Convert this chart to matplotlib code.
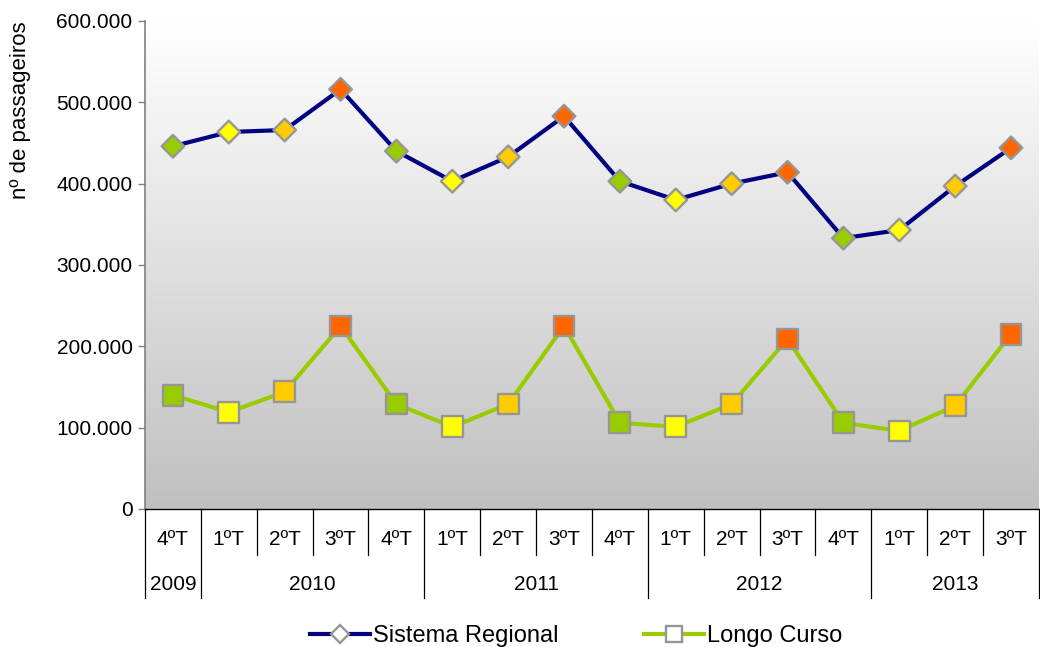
import matplotlib
matplotlib.use("Agg")
import matplotlib.pyplot as plt
import numpy as np
from matplotlib.colors import LinearSegmentedColormap
from matplotlib.ticker import FuncFormatter
from matplotlib.lines import Line2D
import matplotlib.transforms as mtransforms

plt.rcParams['font.family'] = ['Liberation Sans', 'DejaVu Sans']

quarters = ["4ºT", "1ºT", "2ºT", "3ºT", "4ºT", "1ºT", "2ºT", "3ºT",
            "4ºT", "1ºT", "2ºT", "3ºT", "4ºT", "1ºT", "2ºT", "3ºT"]
years = ["2009", "2010", "2011", "2012", "2013"]
year_span = [1, 4, 4, 4, 3]   # quarters per year group

regional = [446000, 463500, 466000, 516000, 440000, 403000, 433000, 483000,
            403000, 380000, 400000, 414000, 333000, 343000, 397000, 444000]
longo = [140000, 119000, 144000, 225000, 129000, 101000, 129000, 225000,
         106000, 101000, 129000, 209000, 106000, 96000, 127000, 215000]

q_colors = {"1": "#FFFF00", "2": "#FFCC00", "3": "#FF6600", "4": "#99CC00"}
edge = "#969696"

fig = plt.figure(figsize=(10.4, 6.47), dpi=100)
ax = fig.add_axes([145 / 1040, 1 - 509 / 647, 1 - 145 / 1040 - 0.001, (509 - 21) / 647])

# background gradient
cmap = LinearSegmentedColormap.from_list("bg", ["#C0C0C0", "#FFFFFF"])
grad = np.linspace(0, 1, 256).reshape(-1, 1)
ax.imshow(grad, extent=[0, 1, 0, 1], transform=ax.transAxes, aspect='auto',
          cmap=cmap, origin='lower', zorder=0)

x = np.arange(len(quarters))
fcols = [q_colors[q[0]] for q in quarters]

ax.plot(x, regional, color="#000080", lw=3, zorder=2)
ax.scatter(x, regional, marker='D', s=11.5 ** 2, c=fcols, edgecolors=edge,
           linewidths=1.7, zorder=3)
ax.plot(x, longo, color="#99CC00", lw=3, zorder=2)
ax.scatter(x, longo, marker='s', s=15 ** 2, c=fcols, edgecolors=edge,
           linewidths=1.7, zorder=3)

ax.set_xlim(-0.5, len(quarters) - 0.5)
ax.set_ylim(0, 600000)
ax.set_yticks(np.arange(0, 600001, 100000))
ax.yaxis.set_major_formatter(FuncFormatter(lambda v, p: f"{int(v):,}".replace(",", ".")))
ax.tick_params(axis='y', direction='out', length=5, width=1, color="#808080",
               labelsize=15, pad=4)
ax.set_xticks([])
for s in ['top', 'right']:
    ax.spines[s].set_visible(False)
ax.spines['left'].set_color("#808080")
ax.spines['left'].set_linewidth(1.2)
ax.spines['bottom'].set_color("#000000")
ax.spines['bottom'].set_linewidth(1.0)

ax.set_ylabel("nº de passageiros", fontsize=16)
ax.yaxis.set_label_coords(-0.128, 0.818)

# category axis: quarters and years
tr = mtransforms.blended_transform_factory(ax.transData, ax.transAxes)
for i, q in enumerate(quarters):
    ax.text(i, -0.063, q, transform=tr, ha='center', va='center', fontsize=15)

year_bounds = np.concatenate([[0], np.cumsum(year_span)])
for b in range(len(quarters) + 1):
    ylow = -0.182 if b in year_bounds else -0.094
    ax.plot([b - 0.5, b - 0.5], [0, ylow], transform=tr, color="#000000",
            lw=0.9, clip_on=False)
for k, yr in enumerate(years):
    mid = (year_bounds[k] + year_bounds[k + 1]) / 2 - 0.5
    ax.text(mid, -0.154, yr, transform=tr, ha='center', va='center', fontsize=15)

handles = [
    Line2D([], [], color="#000080", lw=3, marker='D', markersize=9,
           markerfacecolor='white', markeredgecolor=edge, markeredgewidth=1.7),
    Line2D([], [], color="#99CC00", lw=3, marker='s', markersize=11,
           markerfacecolor='white', markeredgecolor=edge, markeredgewidth=1.7),
]
fig.legend(handles, ["Sistema Regional", "Longo Curso"], loc='center',
           bbox_to_anchor=(576 / 1040, 1 - 636 / 647), ncol=2, frameon=False,
           fontsize=17, handlelength=2.55, handletextpad=0.12, columnspacing=3.6)

fig.savefig("out.png", dpi=100)
